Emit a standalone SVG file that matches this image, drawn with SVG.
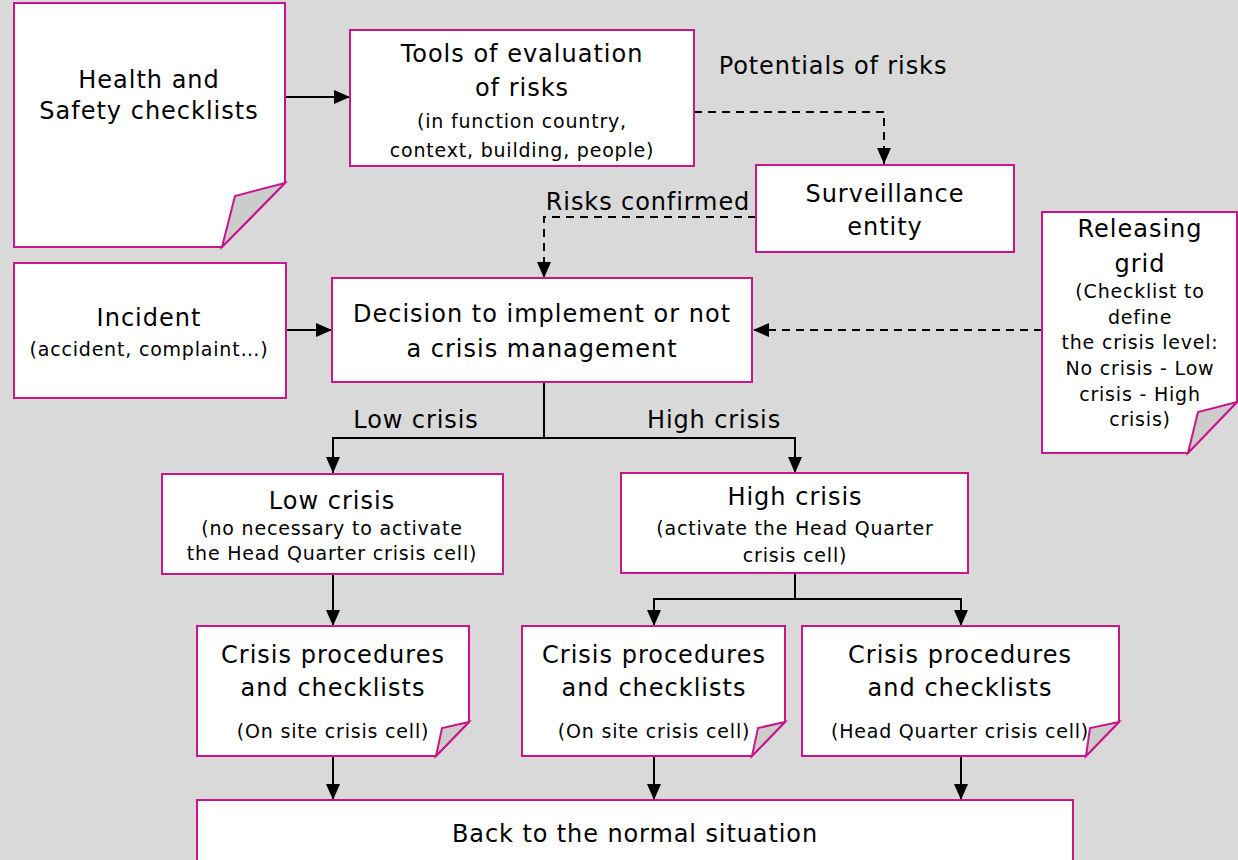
<svg xmlns="http://www.w3.org/2000/svg" width="1238" height="860" viewBox="0 0 1238 860">
<style>
.bg{fill:#d9d9d9}
.box{fill:#ffffff;stroke:#c8168c;stroke-width:2}
.fold{fill:#cccccc;stroke:#c8168c;stroke-width:2;stroke-linejoin:miter}
.ln{fill:none;stroke:#000;stroke-width:2}
.dash{stroke-dasharray:8 6}
text{font-family:"DejaVu Sans","Noto Sans",sans-serif;fill:#000;text-anchor:middle}
.t{font-size:24px;letter-spacing:1px}
.s{font-size:19px;letter-spacing:0.8px}
.lbl{font-size:24px;letter-spacing:0.9px}
</style>
<defs>
<marker id="ah" markerUnits="userSpaceOnUse" markerWidth="16" markerHeight="16" viewBox="0 0 16 16" refX="16" refY="8" orient="auto">
<path d="M0 1 L16 8 L0 15 Z" fill="#000"/>
</marker>
</defs>
<rect class="bg" x="0" y="0" width="1238" height="860"/>

<g id="connectors">
<path class="ln" d="M286 97 H350" marker-end="url(#ah)"/>
<path class="ln dash" d="M694 112 H884 V164" marker-end="url(#ah)"/>
<path class="ln dash" d="M756 217 H544 V278" marker-end="url(#ah)"/>
<path class="ln" d="M286 330 H332" marker-end="url(#ah)"/>
<path class="ln dash" d="M1042 330 H753" marker-end="url(#ah)"/>
<path class="ln" d="M544 382 V438"/>
<path class="ln" d="M333 438 H795"/>
<path class="ln" d="M333 437 V473" marker-end="url(#ah)"/>
<path class="ln" d="M795 437 V473" marker-end="url(#ah)"/>
<path class="ln" d="M333 574 V626" marker-end="url(#ah)"/>
<path class="ln" d="M795 573 V599"/>
<path class="ln" d="M654 599 H961"/>
<path class="ln" d="M654 598 V626" marker-end="url(#ah)"/>
<path class="ln" d="M961 598 V626" marker-end="url(#ah)"/>
<path class="ln" d="M333 756 V800" marker-end="url(#ah)"/>
<path class="ln" d="M654 756 V800" marker-end="url(#ah)"/>
<path class="ln" d="M961 756 V800" marker-end="url(#ah)"/>
<text class="lbl" x="833" y="74">Potentials of risks</text>
<text class="lbl" x="648" y="210">Risks confirmed</text>
<text class="lbl" x="416" y="428">Low crisis</text>
<text class="lbl" x="714" y="428">High crisis</text>
</g>

<g id="health">
<path class="box" d="M14 3 H285 V183 L222 247 H14 Z"/>
<path class="fold" d="M285 183 L235 196 L222 247 Z"/>
<text class="t" x="149" y="88">Health and</text>
<text class="t" x="149" y="119">Safety checklists</text>
</g>

<g id="tools">
<rect class="box" x="350" y="30" width="344" height="136"/>
<text class="t" x="522" y="62">Tools of evaluation</text>
<text class="t" x="522" y="96">of risks</text>
<text class="s" x="522" y="128">(in function country,</text>
<text class="s" x="522" y="157">context, building, people)</text>
</g>

<g id="surveillance">
<rect class="box" x="756" y="165" width="258" height="87"/>
<text class="t" x="885" y="202">Surveillance</text>
<text class="t" x="885" y="235">entity</text>
</g>

<g id="incident">
<rect class="box" x="14" y="263" width="272" height="135"/>
<text class="t" x="149" y="326">Incident</text>
<text class="s" x="149" y="356">(accident, complaint…)</text>
</g>

<g id="decision">
<rect class="box" x="332" y="278" width="420" height="104"/>
<text class="t" x="542" y="322">Decision to implement or not</text>
<text class="t" x="542" y="357">a crisis management</text>
</g>

<g id="releasing">
<path class="box" d="M1042 212 H1237 V402 L1188 453 H1042 Z"/>
<path class="fold" d="M1237 402 L1198 412 L1188 453 Z"/>
<text class="t" x="1140" y="237">Releasing</text>
<text class="t" x="1140" y="272">grid</text>
<text class="s" x="1140" y="298">(Checklist to</text>
<text class="s" x="1140" y="324">define</text>
<text class="s" x="1140" y="349">the crisis level:</text>
<text class="s" x="1140" y="375">No crisis - Low</text>
<text class="s" x="1140" y="401">crisis - High</text>
<text class="s" x="1140" y="426">crisis)</text>
</g>

<g id="low">
<rect class="box" x="162" y="474" width="341" height="100"/>
<text class="t" x="332" y="509">Low crisis</text>
<text class="s" x="332" y="535">(no necessary to activate</text>
<text class="s" x="332" y="560">the Head Quarter crisis cell)</text>
</g>

<g id="high">
<rect class="box" x="621" y="473" width="347" height="100"/>
<text class="t" x="795" y="505">High crisis</text>
<text class="s" x="795" y="535">(activate the Head Quarter</text>
<text class="s" x="795" y="562">crisis cell)</text>
</g>

<g id="proc1">
<path class="box" d="M197 626 H469 V722 L436 756 H197 Z"/>
<path class="fold" d="M469 722 L442 728 L436 756 Z"/>
<text class="t" x="333" y="663">Crisis procedures</text>
<text class="t" x="333" y="696">and checklists</text>
<text class="s" x="333" y="738">(On site crisis cell)</text>
</g>

<g id="proc2">
<path class="box" d="M522 626 H785 V722 L752 756 H522 Z"/>
<path class="fold" d="M785 722 L758 728 L752 756 Z"/>
<text class="t" x="654" y="663">Crisis procedures</text>
<text class="t" x="654" y="696">and checklists</text>
<text class="s" x="654" y="738">(On site crisis cell)</text>
</g>

<g id="proc3">
<path class="box" d="M802 626 H1119 V722 L1086 756 H802 Z"/>
<path class="fold" d="M1119 722 L1090 728 L1086 756 Z"/>
<text class="t" x="960" y="663">Crisis procedures</text>
<text class="t" x="960" y="696">and checklists</text>
<text class="s" x="960" y="738">(Head Quarter crisis cell)</text>
</g>

<g id="back">
<rect class="box" x="197" y="800" width="876" height="80"/>
<text class="lbl" x="635" y="842">Back to the normal situation</text>
</g>
</svg>
